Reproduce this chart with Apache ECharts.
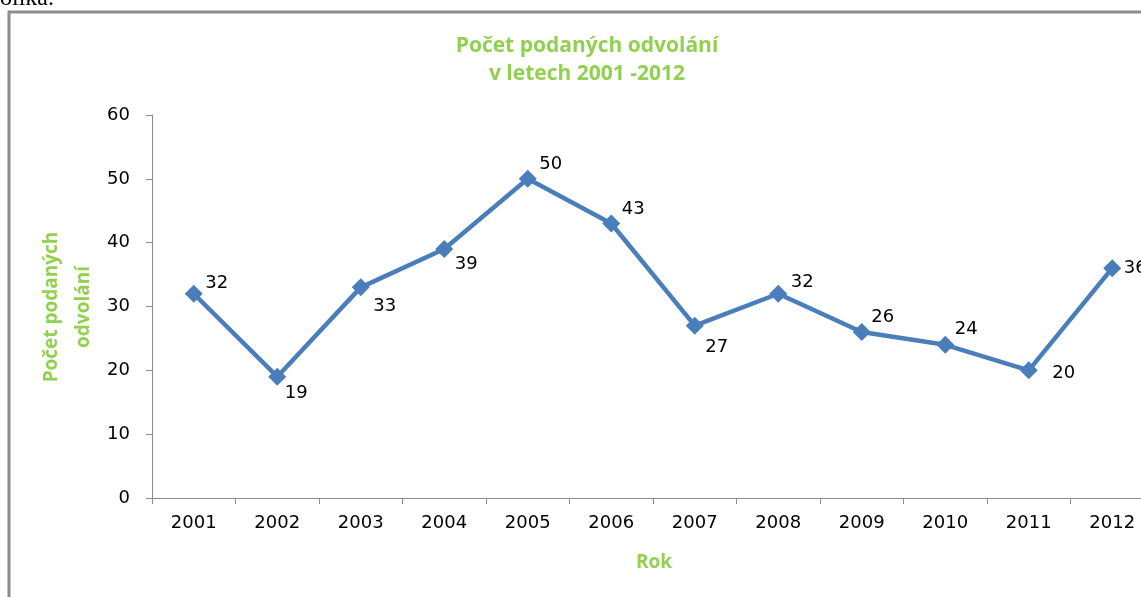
<!DOCTYPE html>
<html>
<head>
<meta charset="utf-8">
<script src="https://cdn.jsdelivr.net/npm/echarts@6/dist/echarts.min.js"></script>
<style>
  html, body { margin: 0; padding: 0; background: #fff; }
  #main { width: 1141px; height: 597px; }
</style>
</head>
<body>
<div id="main"></div>
<script>
// data
var years = ['2001', '2002', '2003', '2004', '2005', '2006', '2007', '2008', '2009', '2010', '2011', '2012'];
var counts = [32, 19, 33, 39, 50, 43, 27, 32, 26, 24, 20, 36];
var yTicks = [0, 60, 10];

// where each value label sits relative to its point (px)
var labelShift = [[23, -10], [19, 17], [24, 19], [22, 15], [23, -15], [22, -14],
  [22, 22], [24, -11], [21, -15], [21, -15], [35, 3], [23, 0]];

var green = '#92d050';
var blue = '#4a7ebb';

var myChart = echarts.init(document.getElementById('main'));

var option = {
  animation: false,
  title: {
    text: 'Počet podaných odvolání\nv letech 2001 -2012',
    left: 582,
    top: 27,
    textAlign: 'center',
    textStyle: {
      color: green,
      fontFamily: 'Open Sans',
      fontWeight: 'bold',
      fontSize: 21,
      lineHeight: 28
    }
  },
  graphic: [
    {
      // outer frame of the chart object
      type: 'rect',
      shape: { x: 9, y: 12, width: 1150, height: 600 },
      style: { fill: 'none', stroke: '#8c8c8c', lineWidth: 3 }
    },
    {
      type: 'text',
      x: 0,
      y: -13,
      style: { text: 'olika.', font: '24px "Liberation Serif"', fill: '#000' }
    },
    {
      type: 'text',
      x: 654,
      y: 563,
      style: {
        text: 'Rok', font: 'bold 19px "Open Sans"', fill: green,
        align: 'center', verticalAlign: 'middle'
      }
    },
    {
      type: 'text',
      x: 68,
      y: 307,
      rotation: Math.PI / 2,
      style: {
        text: 'Počet podaných\nodvolání', font: 'bold 19px "Open Sans"', fill: green,
        align: 'center', verticalAlign: 'middle', lineHeight: 32
      }
    }
  ],
  grid: {
    left: 152,
    top: 115,
    width: 1002,
    bottom: 99,
    outerBoundsMode: 'none',
    containLabel: false
  },
  xAxis: {
    type: 'category',
    data: years,
    boundaryGap: true,
    axisLine: { lineStyle: { color: '#8c8c8c', width: 1 } },
    axisTick: { show: true, length: 6, lineStyle: { color: '#8c8c8c' } },
    axisLabel: {
      color: '#000',
      fontFamily: 'DejaVu Sans',
      fontSize: 18,
      margin: 16
    }
  },
  yAxis: {
    type: 'value',
    min: yTicks[0],
    max: yTicks[1],
    interval: yTicks[2],
    axisLine: { show: true, lineStyle: { color: '#8c8c8c', width: 1 } },
    axisTick: { show: true, length: 6, lineStyle: { color: '#8c8c8c' } },
    splitLine: { show: false },
    axisLabel: {
      color: '#000',
      fontFamily: 'DejaVu Sans',
      fontSize: 18,
      margin: 22
    }
  },
  series: [
    {
      type: 'line',
      data: counts.map(function (v, i) {
        return {
          value: v,
          label: { offset: labelShift[i] }
        };
      }),
      lineStyle: { color: blue, width: 4.5 },
      itemStyle: { color: blue },
      symbol: 'diamond',
      symbolSize: 18,
      label: {
        show: true,
        position: 'inside',
        align: 'center',
        verticalAlign: 'middle',
        color: '#000',
        fontFamily: 'DejaVu Sans',
        fontSize: 18
      }
    }
  ]
};

myChart.setOption(option);
</script>
</body>
</html>
